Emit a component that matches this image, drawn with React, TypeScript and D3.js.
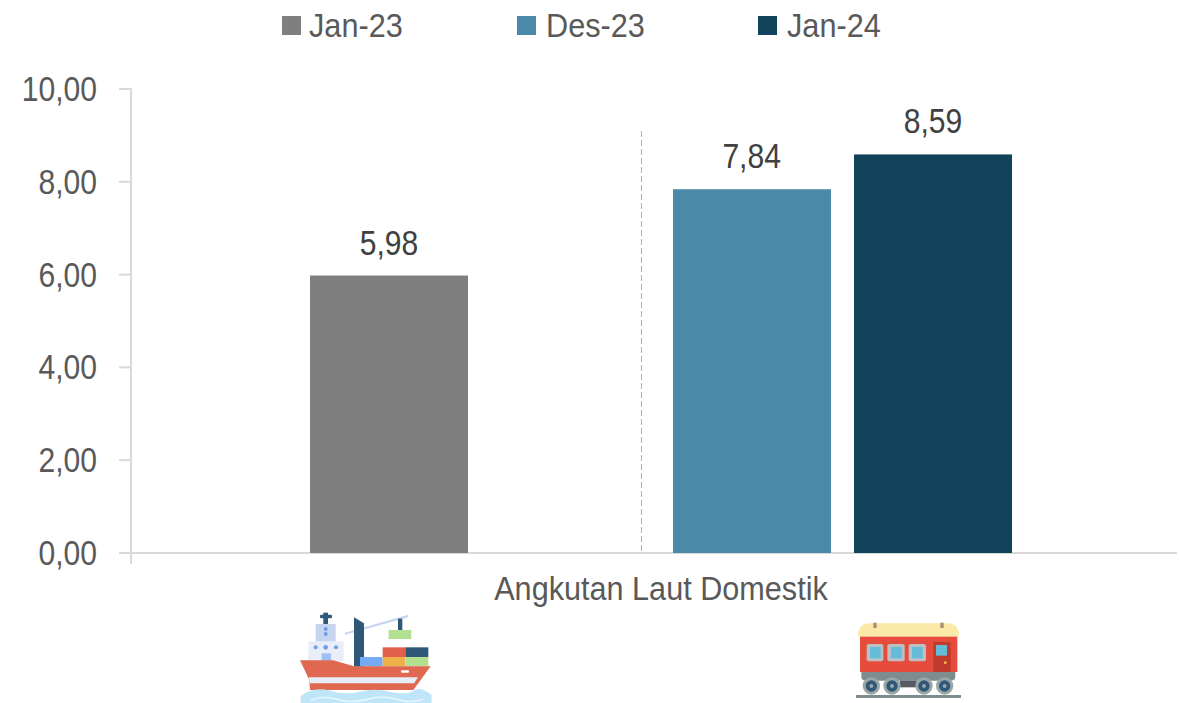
import React from "react";
import * as d3 from "d3";

const categories = ["Jan-23", "Des-23", "Jan-24"];
const values = [5.98, 7.84, 8.59];
const colors = ["#7f7f7f", "#4a8aa8", "#10425a"];
const slots = ["Jan-23", "gap", "Des-23", "Jan-24"];
const yTicks = [0, 2, 4, 6, 8, 10];
const xTitle = "Angkutan Laut Domestik";
const FONT = '"Liberation Sans", Arial, sans-serif';
const fmt = (v: number) => v.toFixed(2).replace(".", ",");

function Narrow({ x, y, sx, size, fill, anchor, children }: any) {
  return (
    <text
      transform={`translate(${x},${y}) scale(${sx},1)`}
      textAnchor={anchor}
      fontSize={size}
      fill={fill}
    >
      {children}
    </text>
  );
}

function Ship() {
  return (
    <g transform="translate(280,600) scale(0.3333)">
      <rect x="130" y="38" width="14" height="34" fill="#2f5878" />
      <rect x="120" y="44" width="36" height="11" rx="4" fill="#2f5878" />
      <rect x="107" y="72" width="60" height="54" fill="#c5d5f0" />
      <circle cx="137" cy="87" r="6" fill="#6d9fe8" />
      <circle cx="137" cy="102" r="6" fill="#6d9fe8" />
      <rect x="85" y="124" width="106" height="60" fill="#e8edf8" />
      <circle cx="107" cy="142" r="6" fill="#6d9fe8" />
      <circle cx="137" cy="142" r="7" fill="#6d9fe8" />
      <circle cx="168" cy="142" r="6" fill="#6d9fe8" />
      <rect x="125" y="160" width="28" height="24" fill="#9dc0f3" />
      <polygon points="195,98 385,44 385,52 195,104" fill="#c5d5f0" />
      <polygon points="222,52 252,70 252,200 222,200" fill="#2f5878" />
      <rect x="354" y="56" width="13" height="34" fill="#2f5878" />
      <rect x="326" y="90" width="68" height="27" fill="#b0e090" />
      <rect x="240" y="171" width="68" height="28" fill="#75aaf5" />
      <rect x="308" y="142" width="68" height="29" fill="#e0604c" />
      <rect x="376" y="142" width="69" height="29" fill="#2f5878" />
      <rect x="308" y="171" width="68" height="28" fill="#eeb04a" />
      <rect x="376" y="171" width="69" height="28" fill="#b0e090" />
      <polygon points="60,181 160,181 222,199 452,199 400,270 90,270 88,240" fill="#e06850" />
      <polygon points="86,232 414,232 402,250 90,250" fill="#e8edf8" />
      <rect x="363" y="211" width="24" height="7" rx="3" fill="#ffffff" />
      <path d="M62,288 Q100,258 150,272 T240,275 T330,275 T400,272 T455,285 L455,309 L62,309 Z" fill="#bfe6f8" />
      <path d="M90,302 Q130,285 170,298 T260,298 T350,298 T430,298" fill="none" stroke="#e4f5fd" strokeWidth="5" />
    </g>
  );
}

function Train() {
  return (
    <g transform="translate(840,610) scale(0.3333)">
      <path d="M54,80 Q54,40 90,40 L322,40 Q357,40 357,80 Z" fill="#fbe9a8" />
      <rect x="100" y="38" width="10" height="16" fill="#a88f72" />
      <rect x="301" y="38" width="10" height="16" fill="#a88f72" />
      <rect x="60" y="80" width="292" height="106" fill="#e54c3c" />
      <rect x="80" y="102" width="50" height="52" rx="6" fill="#bdbfc3" />
      <rect x="90" y="111" width="32" height="34" fill="#64bcd8" />
      <rect x="142" y="102" width="52" height="52" rx="6" fill="#bdbfc3" />
      <rect x="153" y="111" width="32" height="34" fill="#64bcd8" />
      <rect x="206" y="102" width="52" height="52" rx="6" fill="#bdbfc3" />
      <rect x="216" y="111" width="32" height="34" fill="#64bcd8" />
      <rect x="280" y="96" width="52" height="90" fill="#bf3b2e" />
      <rect x="288" y="105" width="33" height="32" fill="#64bcd8" />
      <circle cx="316" cy="158" r="4" fill="#f5c542" />
      <path d="M64,186 L346,186 L346,200 Q346,212 330,212 L80,212 Q64,212 64,200 Z" fill="#7f8c8d" />
      <rect x="180" y="212" width="50" height="20" fill="#555b60" />
      {[94, 156, 252, 314].map((cx) => (
        <g key={cx}>
          <circle cx={cx} cy="228" r="26" fill="#9aa5a6" />
          <circle cx={cx} cy="228" r="17" fill="#2f5878" />
          <circle cx={cx} cy="228" r="6" fill="#9aa5a6" />
        </g>
      ))}
      <rect x="48" y="255" width="315" height="9" fill="#7f8c8d" />
    </g>
  );
}

export default function App() {
  const y = d3.scaleLinear().domain([0, 10]).range([553, 89]);
  const step = 544 / 3;
  const bw = 158;
  const x = d3
    .scaleBand<string>()
    .domain(slots)
    .range([389 - step / 2, 933 + step / 2])
    .paddingInner((step - bw) / step)
    .paddingOuter((step - bw) / 2 / step);
  const legendX = [282, 517, 758];
  const legendTextX = [309, 546, 787];
  return (
    <svg
      width={1179}
      height={703}
      style={{ position: "absolute", left: 0, top: 0, background: "#fff" }}
      fontFamily={FONT}
    >
      <line x1={641.5} x2={641.5} y1={131} y2={553} stroke="#b0b0b0" strokeWidth={1} strokeDasharray="6 3" />
      {yTicks.map((t) => (
        <g key={t}>
          <line x1={119} x2={131} y1={y(t)} y2={y(t)} stroke="#d9d9d9" strokeWidth={2} />
          <Narrow x={97} y={y(t) + 12} sx={0.86} size={35} fill="#595959" anchor="end">
            {fmt(t)}
          </Narrow>
        </g>
      ))}
      <line x1={131} x2={131} y1={88} y2={564} stroke="#d9d9d9" strokeWidth={2} />
      <line x1={119} x2={1177} y1={553} y2={553} stroke="#d9d9d9" strokeWidth={2} />
      {categories.map((c, i) => (
        <g key={c}>
          <rect
            x={Math.round(x(c)!)}
            y={y(values[i])}
            width={x.bandwidth()}
            height={y(0) - y(values[i])}
            fill={colors[i]}
          />
          <Narrow
            x={x(c)! + x.bandwidth() / 2}
            y={y(values[i]) - 21}
            sx={0.86}
            size={35}
            fill="#404040"
            anchor="middle"
          >
            {fmt(values[i])}
          </Narrow>
          <rect x={legendX[i]} y={16} width={19} height={19} fill={colors[i]} />
          <Narrow x={legendTextX[i]} y={37} sx={0.93} size={33} fill="#595959" anchor="start">
            {c}
          </Narrow>
        </g>
      ))}
      <Narrow x={661} y={600} sx={0.928} size={33} fill="#595959" anchor="middle">
        {xTitle}
      </Narrow>
      <Ship />
      <Train />
    </svg>
  );
}
